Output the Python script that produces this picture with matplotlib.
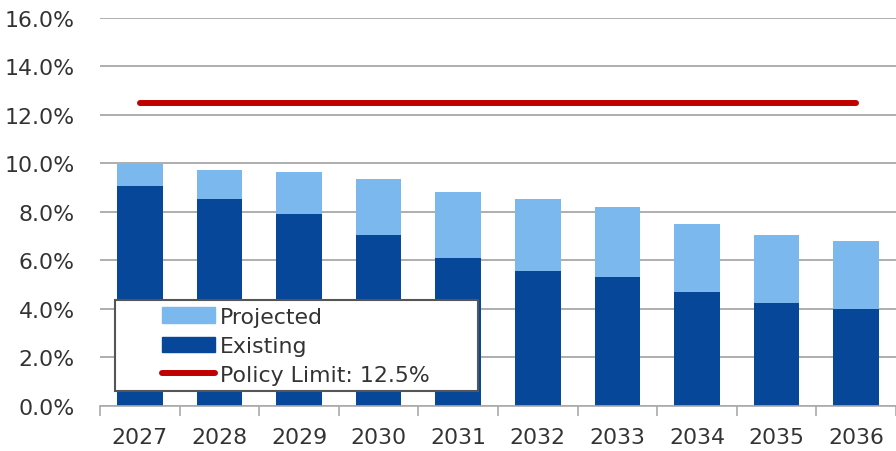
import matplotlib.pyplot as plt
import numpy as np
from matplotlib.lines import Line2D
from matplotlib.patches import Patch, Rectangle
from matplotlib.ticker import FuncFormatter

years = ["2027", "2028", "2029", "2030", "2031", "2032", "2033", "2034", "2035", "2036"]
existing = [9.08, 8.54, 7.92, 7.06, 6.10, 5.57, 5.32, 4.70, 4.26, 3.99]
projected = [0.89, 1.18, 1.74, 2.29, 2.72, 2.98, 2.90, 2.82, 2.79, 2.81]
policy_limit = 12.5

dark_blue = "#06479A"
light_blue = "#7AB8ED"
red = "#C00000"
text_col = "#333333"

plt.rcParams["font.family"] = "DejaVu Sans"

fig = plt.figure(figsize=(8.96, 4.52), dpi=100)
ax = fig.add_axes([0.1116, 0.0996, 0.8884, 0.8584])

x = np.arange(len(years))
ax.bar(x, existing, width=0.575, color=dark_blue, zorder=2)
ax.bar(x, projected, width=0.575, bottom=existing, color=light_blue, zorder=2)
ax.plot([x[0], x[-1]], [policy_limit, policy_limit], color=red, lw=4.3,
        solid_capstyle="round", zorder=3)

ax.set_xlim(-0.5, len(years) - 0.5)
ax.set_ylim(0, 16)

# gridlines only, no left spine
ax.set_yticks(np.arange(0, 17, 2))
ax.yaxis.set_major_formatter(FuncFormatter(lambda v, p: f"{v:.1f}%"))
ax.grid(axis="y", color="#999999", lw=1.1, zorder=0)
ax.tick_params(axis="y", length=0, pad=18, labelsize=15.8, labelcolor=text_col)

for s in ["top", "right", "left"]:
    ax.spines[s].set_visible(False)
ax.spines["bottom"].set_color("#AAAAAA")
ax.spines["bottom"].set_linewidth(1.2)

# labels at centres, tick marks between categories
ax.set_xticks(x)
ax.set_xticklabels(years)
ax.set_xticks(np.arange(-0.5, len(years), 1), minor=True)
ax.tick_params(axis="x", which="major", length=0, pad=15, labelsize=15.8, labelcolor=text_col)
ax.tick_params(axis="x", which="minor", length=7, width=1.2, color="#AAAAAA")

# legend box
frame = Rectangle((0.0188, 0.0387), 0.4560, 0.2343, transform=ax.transAxes,
                  facecolor="white", edgecolor="#555555", lw=1.5, zorder=4)
ax.add_patch(frame)

handles = [
    Patch(color=light_blue, label="Projected"),
    Patch(color=dark_blue, label="Existing"),
    Line2D([], [], color=red, lw=4.3, solid_capstyle="round", label="Policy Limit: 12.5%"),
]
leg = ax.legend(handles=handles, loc="upper left", bbox_to_anchor=(0.0779, 0.256),
                frameon=False, borderpad=0, borderaxespad=0, handlelength=2.4,
                handleheight=0.7, handletextpad=0.25, labelspacing=0.42,
                fontsize=15.8, labelcolor=text_col)
leg.set_zorder(5)

fig.savefig("out.png", dpi=100)
